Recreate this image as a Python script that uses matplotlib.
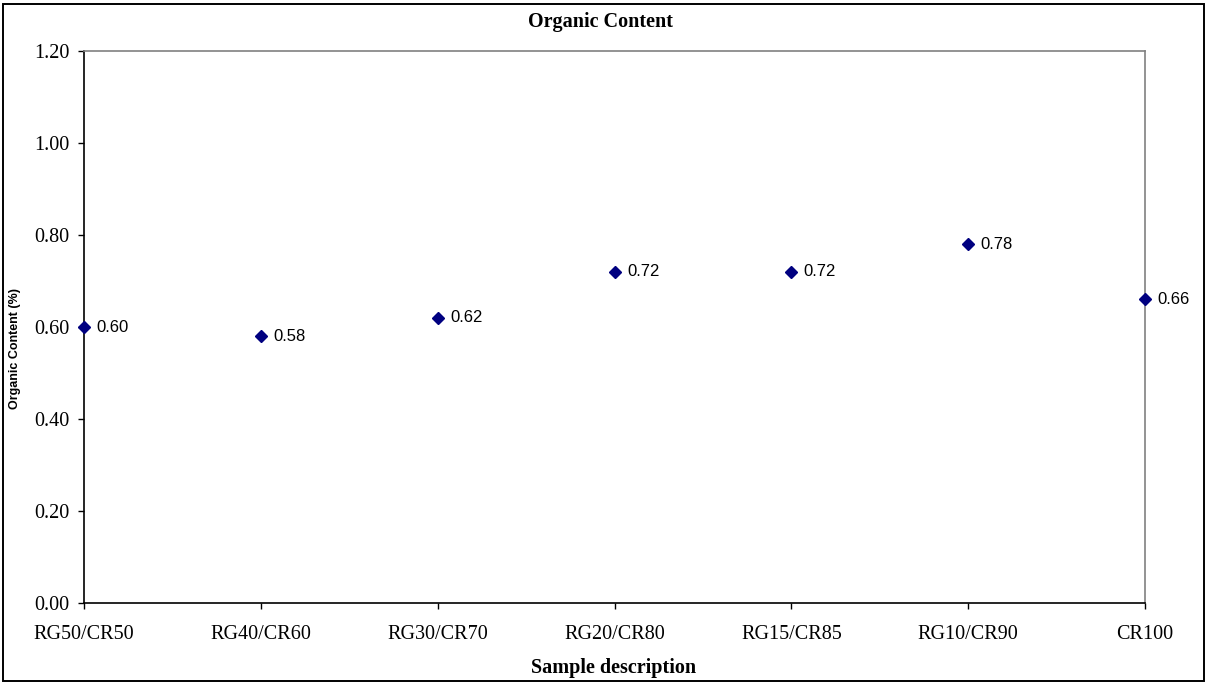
import matplotlib
matplotlib.use("Agg")
import matplotlib.pyplot as plt
from matplotlib.patches import Rectangle

samples = ["RG50/CR50", "RG40/CR60", "RG30/CR70", "RG20/CR80",
           "RG15/CR85", "RG10/CR90", "CR100"]
organic_content = [0.60, 0.58, 0.62, 0.72, 0.72, 0.78, 0.66]
y_ticks = [0.00, 0.20, 0.40, 0.60, 0.80, 1.00, 1.20]

W, H = 1206, 684
fig = plt.figure(figsize=(W / 100, H / 100), dpi=100)
fig.patch.set_facecolor("white")

# outer chart frame
fig.patches.append(Rectangle((3.5 / W, 3 / H), 1200 / W, 677.5 / H,
                             transform=fig.transFigure, fill=False,
                             edgecolor="black", linewidth=1.4, zorder=10))

ax = fig.add_axes([84 / W, 1 - 603 / H, (1145 - 84) / W, (603 - 51) / H])

x = list(range(len(samples)))
ax.plot(x, organic_content, linestyle="none", marker="D", markersize=6.5,
        color="#000080", clip_on=False, zorder=5)

for xi, v in zip(x, organic_content):
    ax.annotate(f"{v:.2f}", (xi, v), xytext=(9, 0), textcoords="offset points",
                ha="left", va="center", fontsize=12,
                family="Liberation Sans", color="black")

ax.set_xlim(0, len(samples) - 1)
ax.set_ylim(0, 1.2)
ax.set_xticks(x)
ax.set_xticklabels(samples, family="Liberation Serif", fontsize=14.5)
ax.set_yticks(y_ticks)
ax.set_yticklabels([f"{t:.2f}" for t in y_ticks], family="Liberation Serif",
                   fontsize=14.5)
ax.tick_params(axis="both", direction="out", length=4.5, width=1.0,
               color="black")
ax.tick_params(axis="y", pad=6)
ax.tick_params(axis="x", pad=11)

for side in ("top", "right"):
    ax.spines[side].set_color("#808080")
    ax.spines[side].set_linewidth(1.2)
for side in ("left", "bottom"):
    ax.spines[side].set_color("black")
    ax.spines[side].set_linewidth(1.2)

fig.text(601 / W, 1 - 22 / H, "Organic Content", ha="center", va="center",
         family="Liberation Serif", fontweight="bold", fontsize=14.5)
fig.text(614 / W, 1 - 668 / H, "Sample description", ha="center", va="center",
         family="Liberation Serif", fontweight="bold", fontsize=14.5)
fig.text(15 / W, 1 - 349 / H, "Organic Content (%)", ha="center", va="center",
         rotation=90, family="Liberation Sans", fontweight="bold", fontsize=9)

fig.savefig("out.png", dpi=100)
